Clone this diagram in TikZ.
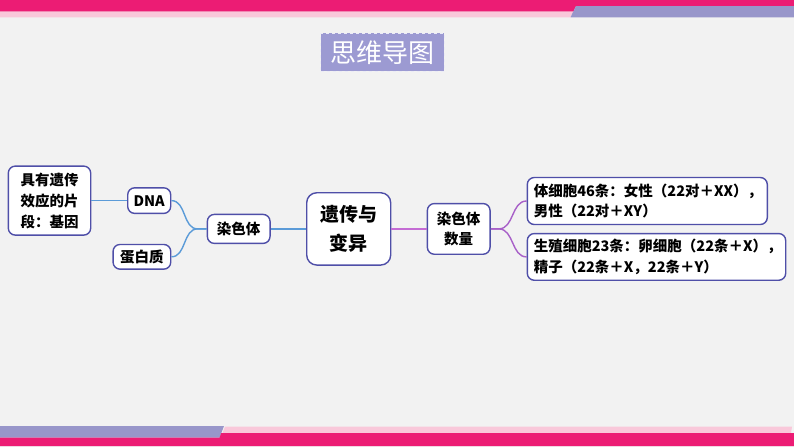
\documentclass[tikz,border=0pt]{standalone}
\usepackage{fontspec}
\setmainfont{Noto Sans CJK SC}
\usetikzlibrary{positioning}

\definecolor{barpink}{HTML}{EC1C74}
\definecolor{lightpink}{HTML}{F9C8DA}
\definecolor{barpurple}{HTML}{9896CA}
\definecolor{titlepurple}{HTML}{9C9AD2}
\definecolor{boxline}{HTML}{4F4FA8}
\definecolor{linkblue}{HTML}{5B9BD8}
\definecolor{linkpink}{HTML}{C46CD4}
\definecolor{linkpurple}{HTML}{A860C8}
\definecolor{paper}{HTML}{F2F2F2}

\begin{document}
\begin{tikzpicture}[node distance=110pt,on grid,x=1pt,y=1pt]
  \tikzset{topic/.style={draw=boxline,fill=white,line width=1.4pt,rounded corners=7pt,
                         inner sep=0pt,align=center,font=\bfseries\fontsize{14.5}{20.7}\selectfont},
           bluelink/.style={draw=linkblue,line width=1.4pt},
           purplelink/.style={draw=linkpurple,line width=1.4pt}}

  % page and frame bars
  \fill[paper] (0,0) rectangle (794,-447);
  \useasboundingbox (0,0) rectangle (794,-447);
  \fill[barpink] (0,0) rectangle (794,-6);
  \fill[barpink] (0,-6) -- (576,-6) -- (573.3,-11.7) -- (0,-11.7) -- cycle;
  \fill[lightpink] (0,-11.7) -- (573.3,-11.7) -- (570.5,-17.3) -- (0,-17.3) -- cycle;
  \fill[barpurple] (576,-6) -- (794,-6) -- (794,-17.3) -- (570.5,-17.3) -- cycle;
  \fill[barpurple] (0,-426) -- (224,-426) -- (219.5,-437.7) -- (0,-437.7) -- cycle;
  \fill[lightpink] (225,-426.7) -- (792,-426.7) -- (791,-433) -- (222.5,-433) -- cycle;
  \fill[barpink] (0,-437.7) -- (219.5,-437.7) -- (221.2,-433) -- (794,-433) -- (794,-446) -- (0,-446) -- cycle;

  \node[fill=titlepurple,draw=white!80!titlepurple,dashed,minimum width=123.3pt,minimum height=37.7pt,
        text=white,font=\fontsize{26}{30}\selectfont] (title) at (382.3,-52.2) {思维导图};

  \node[topic,minimum width=84pt,minimum height=72.3pt,rounded corners=10pt,
        font=\bfseries\fontsize{19}{28.3}\selectfont] (root) at (348.7,-228.9) {遗传与\\变异};
  \node[topic,minimum width=62.7pt,minimum height=29pt]   (chromo)  [left  = of root] {染色体};
  \node[topic,minimum width=43pt,minimum height=25.6pt]   (dna)     [above left = 28.3pt and 89.5pt of chromo] {DNA};
  \node[topic,minimum width=57.7pt,minimum height=24.7pt] (protein) [below left = 27.9pt and 96.8pt of chromo] {蛋白质};
  \node[topic,minimum width=82.4pt,minimum height=69pt,
        font=\bfseries\fontsize{14.5}{21}\selectfont]   (gene)    [left  = 99.7pt of dna] {具有遗传\\效应的片\\段：基因};
  \node[topic,minimum width=62.7pt,minimum height=50.7pt] (count)   [right = of root] {染色体\\数量};
  \node[topic,minimum height=47pt,text width=227pt,inner xsep=6.5pt,align=left]
        (somatic) [above right = 27.9pt and 188.6pt of count] {体细胞46条：女性（22对＋XX），\\男性（22对＋XY）};
  \node[topic,minimum height=46.7pt,text width=245.4pt,inner xsep=6.5pt,align=left]
        (germ)    [below right = 28pt and 197.8pt of count] {生殖细胞23条：卵细胞（22条＋X），\\精子（22条＋X，22条＋Y）};

  \draw[bluelink] (gene) -- (dna);
  \draw[bluelink] (dna.east) to[out=0,in=180] ([xshift=-9pt]chromo.west) -- (chromo.west);
  \draw[bluelink] (protein.east) to[out=0,in=180] ([xshift=-9pt]chromo.west) -- (chromo.west);
  \draw[bluelink] (chromo) -- (root);
  \draw[draw=linkpink,line width=1.4pt] (root) -- (count);
  \draw[purplelink] (count.east) -- ++(8,0) to[out=0,in=180] (somatic.west);
  \draw[purplelink] (count.east) -- ++(8,0) to[out=0,in=180] (germ.west);
\end{tikzpicture}
\end{document}
